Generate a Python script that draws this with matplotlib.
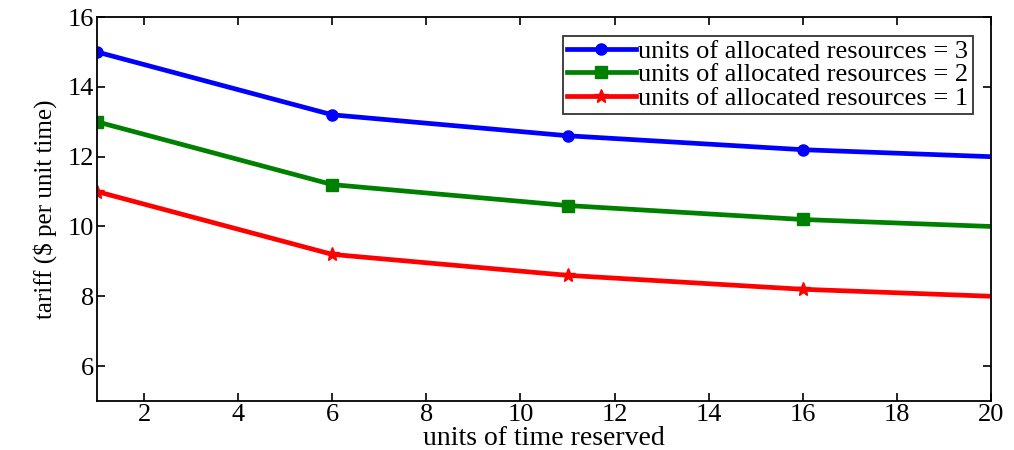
import matplotlib.pyplot as plt

plt.rcParams['font.family'] = ['Liberation Serif', 'DejaVu Serif']

# data
units_time = [1, 6, 11, 16, 20]
tariff_3 = [15.0, 13.2, 12.6, 12.2, 12.0]
tariff_2 = [13.0, 11.2, 10.6, 10.2, 10.0]
tariff_1 = [11.0, 9.2, 8.6, 8.2, 8.0]
labels = ["units of allocated resources = 3",
          "units of allocated resources = 2",
          "units of allocated resources = 1"]

fig = plt.figure(figsize=(10.14, 4.5), dpi=100)
ax = fig.add_axes([0.0957, 0.109, 0.8816, 0.853])

marks = [0, 1, 2, 3]
ax.plot(units_time, tariff_3, color="#0000ff", linewidth=3.4, marker="o", markersize=8, markevery=marks, label=labels[0])
ax.plot(units_time, tariff_2, color="#008000", linewidth=3.4, marker="s", markersize=8, markevery=marks, label=labels[1])
ax.plot(units_time, tariff_1, color="#ff0000", linewidth=3.4, marker="*", markersize=10, markevery=marks, label=labels[2])

ax.set_xlim(1, 20)
ax.set_ylim(5, 16)
ax.set_xticks([2, 4, 6, 8, 10, 12, 14, 16, 18, 20])
ax.set_yticks([6, 8, 10, 12, 14, 16])
ax.tick_params(direction="in", top=True, right=True, labelsize=19, length=6, width=1.2, pad=2)
for sp in ax.spines.values():
    sp.set_linewidth(1.3)

ax.set_xlabel("units of time reserved", fontsize=20, labelpad=0)
ax.set_ylabel("tariff ($ per unit time)", fontsize=18, labelpad=8)

leg = ax.legend(loc="upper right", fontsize=19, frameon=True, fancybox=False,
                edgecolor="black", handlelength=2.6, handletextpad=0.1,
                borderpad=0.15, labelspacing=0.0, borderaxespad=0.7)
leg.get_frame().set_linewidth(1.3)

fig.savefig("out.png", dpi=100)
